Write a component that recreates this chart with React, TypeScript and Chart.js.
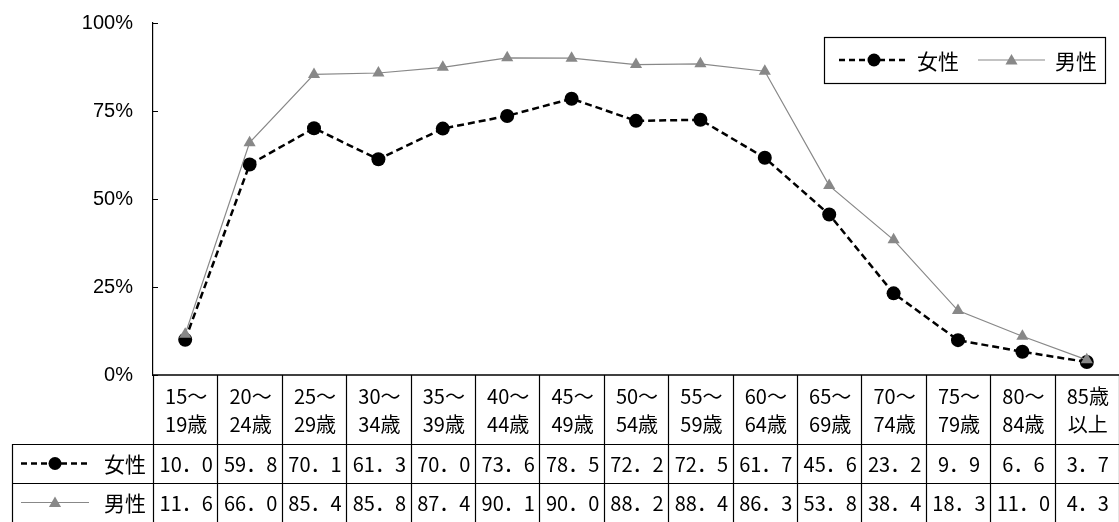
import { useEffect, useRef } from 'react';
import { Chart, registerables } from 'chart.js';

Chart.register(...registerables);

const categories: string[][] = [
  ['15～', '19歳'], ['20～', '24歳'], ['25～', '29歳'], ['30～', '34歳'], ['35～', '39歳'],
  ['40～', '44歳'], ['45～', '49歳'], ['50～', '54歳'], ['55～', '59歳'], ['60～', '64歳'],
  ['65～', '69歳'], ['70～', '74歳'], ['75～', '79歳'], ['80～', '84歳'], ['85歳', '以上'],
];
const femaleValues = [10.0, 59.8, 70.1, 61.3, 70.0, 73.6, 78.5, 72.2, 72.5, 61.7, 45.6, 23.2, 9.9, 6.6, 3.7];
const maleValues = [11.6, 66.0, 85.4, 85.8, 87.4, 90.1, 90.0, 88.2, 88.4, 86.3, 53.8, 38.4, 18.3, 11.0, 4.3];
const seriesNames = ['女性', '男性'];
const yTicks = [0, 25, 50, 75, 100];

const FONT_JP = '"Noto Sans CJK JP", sans-serif';
const FONT_NUM = '"Liberation Sans Narrow", "Liberation Sans", sans-serif';
const MALE_COLOR = '#888888';

function drawCircle(ctx: CanvasRenderingContext2D, x: number, y: number, r: number) {
  ctx.beginPath();
  ctx.arc(x, y, r, 0, Math.PI * 2);
  ctx.fillStyle = '#000';
  ctx.fill();
}

function drawTriangle(ctx: CanvasRenderingContext2D, x: number, y: number, r: number) {
  ctx.beginPath();
  for (let i = 0; i < 3; i++) {
    const a = (i * 2 * Math.PI) / 3;
    const px = x + Math.sin(a) * r;
    const py = y - Math.cos(a) * r;
    if (i === 0) ctx.moveTo(px, py); else ctx.lineTo(px, py);
  }
  ctx.closePath();
  ctx.fillStyle = MALE_COLOR;
  ctx.fill();
}

function drawSample(ctx: CanvasRenderingContext2D, kind: number, x0: number, x1: number, y: number) {
  ctx.save();
  const cx = (x0 + x1) / 2;
  if (kind === 0) {
    ctx.strokeStyle = '#000';
    ctx.lineWidth = 2.5;
    ctx.setLineDash([6, 4]);
    ctx.beginPath();
    ctx.moveTo(x0, y);
    ctx.lineTo(x1, y);
    ctx.stroke();
    ctx.setLineDash([]);
    drawCircle(ctx, cx, y, 6.5);
  } else {
    ctx.strokeStyle = MALE_COLOR;
    ctx.lineWidth = 1.2;
    ctx.beginPath();
    ctx.moveTo(x0, y);
    ctx.lineTo(x1, y);
    ctx.stroke();
    drawTriangle(ctx, cx, y + 1, 7);
  }
  ctx.restore();
}

const fmt = (v: number) => v.toFixed(1).replace('.', '．');

const tablePlugin = {
  id: 'tableAndLegend',
  afterDraw(chart: any) {
    const { ctx, chartArea } = chart;
    const xs = chart.scales.x;
    const ys = chart.scales.y;
    const n = categories.length;
    const w = (chartArea.right - chartArea.left) / n;
    const top = chartArea.bottom;
    const headerH = 69;
    const rowH = 39;
    const r1 = top + headerH;
    const r2 = r1 + rowH;
    const r3 = r2 + rowH;
    const tableLeft = 12.5;
    const right = chartArea.right;
    const tableFont = `20px ${FONT_JP}`;

    ctx.save();
    // inside ticks on y axis
    ctx.strokeStyle = '#000';
    ctx.lineWidth = 1;
    yTicks.forEach((v) => {
      const y = Math.round(ys.getPixelForValue(v)) + 0.5;
      ctx.beginPath();
      ctx.moveTo(chartArea.left, y);
      ctx.lineTo(chartArea.left + 5, y);
      ctx.stroke();
    });

    // table grid
    ctx.lineWidth = 1.6;
    ctx.beginPath();
    ctx.moveTo(chartArea.left, top);
    ctx.lineTo(right, top);
    ctx.stroke();
    ctx.lineWidth = 1.2;
    for (let i = 0; i <= n; i++) {
      const x = Math.round(chartArea.left + i * w) + 0.5;
      ctx.beginPath();
      ctx.moveTo(x, top);
      ctx.lineTo(x, r3);
      ctx.stroke();
    }
    [r1, r2, r3].forEach((y) => {
      ctx.beginPath();
      ctx.moveTo(tableLeft, Math.round(y) + 0.5);
      ctx.lineTo(right, Math.round(y) + 0.5);
      ctx.stroke();
    });
    ctx.beginPath();
    ctx.moveTo(tableLeft, r1);
    ctx.lineTo(tableLeft, r3);
    ctx.stroke();

    // header text
    ctx.fillStyle = '#000';
    ctx.font = tableFont;
    ctx.textAlign = 'center';
    ctx.textBaseline = 'middle';
    categories.forEach((lab, i) => {
      const cx = xs.getPixelForValue(i) + 1;
      ctx.fillText(lab[0], cx, top + 21);
      ctx.fillText(lab[1], cx, top + 49);
    });
    // values
    const rows = [femaleValues, maleValues];
    rows.forEach((vals, ri) => {
      const cy = r1 + rowH * ri + rowH / 2 + 1;
      vals.forEach((v, i) => {
        ctx.fillText(fmt(v), xs.getPixelForValue(i) + 1, cy);
      });
      // row label
      drawSample(ctx, ri, 21, 89, cy - 1);
      ctx.textAlign = 'right';
      ctx.font = `21px ${FONT_JP}`;
      ctx.fillText(seriesNames[ri], 146, cy);
      ctx.font = tableFont;
      ctx.textAlign = 'center';
    });

    // legend box
    const lx0 = 824.5, lx1 = 1105.5, ly0 = 37.5, ly1 = 83.5;
    ctx.fillStyle = '#fff';
    ctx.fillRect(lx0, ly0, lx1 - lx0, ly1 - ly0);
    ctx.strokeStyle = '#000';
    ctx.lineWidth = 1.2;
    ctx.strokeRect(lx0, ly0, lx1 - lx0, ly1 - ly0);
    const ly = 60;
    drawSample(ctx, 0, 839, 909, ly);
    drawSample(ctx, 1, 978, 1045, ly);
    ctx.fillStyle = '#000';
    ctx.font = `21px ${FONT_JP}`;
    ctx.textAlign = 'left';
    ctx.textBaseline = 'middle';
    ctx.fillText(seriesNames[0], 917, ly + 1);
    ctx.fillText(seriesNames[1], 1055, ly + 1);
    ctx.restore();
  },
};

export default function App() {
  const ref = useRef<HTMLCanvasElement | null>(null);
  useEffect(() => {
    if (!ref.current) return;
    const chart = new Chart(ref.current, {
      type: 'line',
      data: {
        labels: categories,
        datasets: [
          {
            label: seriesNames[0],
            data: femaleValues,
            borderColor: '#000',
            backgroundColor: '#000',
            borderWidth: 2.5,
            borderDash: [7, 4],
            pointStyle: 'circle',
            pointRadius: 7,
            pointBackgroundColor: '#000',
            pointBorderColor: '#000',
            pointBorderWidth: 0,
            tension: 0,
            order: 1,
          },
          {
            label: seriesNames[1],
            data: maleValues,
            borderColor: MALE_COLOR,
            backgroundColor: MALE_COLOR,
            borderWidth: 1.2,
            pointStyle: 'triangle',
            pointRadius: 7,
            pointBackgroundColor: MALE_COLOR,
            pointBorderColor: MALE_COLOR,
            pointBorderWidth: 0,
            tension: 0,
            order: 0,
          },
        ],
      },
      options: {
        animation: false,
        responsive: false,
        events: [],
        layout: { padding: { top: 23, right: 4, bottom: 0, left: 0 } },
        plugins: { legend: { display: false }, tooltip: { enabled: false } },
        scales: {
          x: {
            type: 'category',
            offset: true,
            ticks: { display: false },
            grid: { display: false, drawTicks: false, tickLength: 0, offset: true },
            border: { display: false },
            afterFit: (s: any) => { s.height = 148; },
          },
          y: {
            min: 0,
            max: 100,
            afterBuildTicks: (s: any) => { s.ticks = yTicks.map((v) => ({ value: v })); },
            ticks: {
              callback: (v: any) => `${v}%`,
              color: '#000',
              font: { family: FONT_NUM, size: 20 },
              padding: 20,
            },
            grid: { display: false, drawTicks: false, tickLength: 0 },
            border: { display: true, color: '#000', width: 1.2 },
            afterFit: (s: any) => {
              s.width = 153;
              s.paddingTop = 10;
              s.paddingBottom = 10;
            },
          },
        },
      },
      plugins: [tablePlugin],
    });
    return () => chart.destroy();
  }, []);
  return (
    <div style={{ position: 'fixed', left: 0, top: 0, width: 1119, height: 522, overflow: 'hidden', background: '#fff' }}>
      <canvas ref={ref} width={1126} height={523} style={{ display: 'block' }} />
    </div>
  );
}
